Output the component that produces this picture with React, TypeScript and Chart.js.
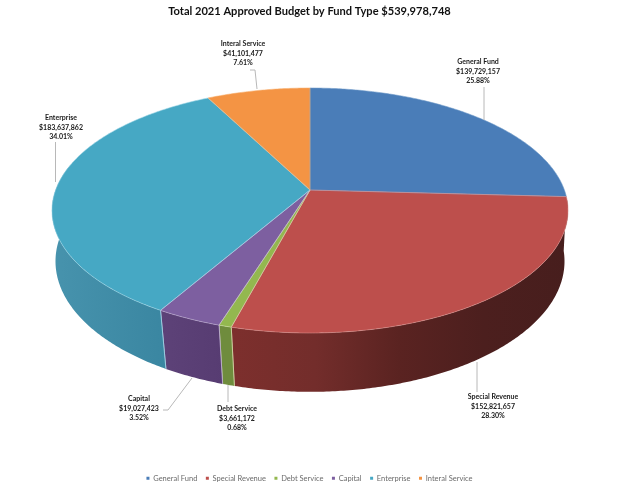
import React, { useEffect, useRef } from "react";
import { Chart, registerables } from "chart.js";

Chart.register(...registerables);

const categories = ["General Fund", "Special Revenue", "Debt Service", "Capital", "Enterprise", "Interal Service"];
const amounts = [139729157, 152821657, 3661172, 19027423, 183637862, 41101477];
const percents = ["25.88%", "28.30%", "0.68%", "3.52%", "34.01%", "7.61%"];
const topColors = ["#4a7db8", "#bd4f4c", "#93b84f", "#7d5fa0", "#46a8c4", "#f49444"];
const rimColors = ["#6f9aca", "#d98f8c", "#cfe0a8", "#c0b0d4", "#a0d8e8", "#f8b070"];
const wallShades = [
  ["#3a6491", "#3a6491"],
  ["#7d2f2d", "#732d2b", "#5a2321", "#4c1f1e", "#471e1d"],
  ["#6f8c3d", "#6f8c3d"],
  ["#5d4278", "#573c72"],
  ["#4793ad", "#3a86a1"],
  ["#b86f30", "#b86f30"],
];

const labelCenters = [[478, 62], [493, 397], [237, 409], [139, 399], [61, 118], [243, 44]];
const leaderLines = [
  [[484, 87], [484, 120]],
  [[477, 362], [477, 392]],
  [[228, 385], [228, 402]],
  [[192, 378], [168, 410], [163, 410]],
  [[55.5, 142], [55.5, 182]],
  [[250, 70], [255, 70], [257, 89]],
];

const top = { cx: 310, cy: 190, a: 119.07, b: 254.4, k: -0.1673 };
const bottom = { cx: 310, cy: 243, a: 128, b: 252, k: -0.14 };
const WALL_FROM = (3.5 * Math.PI) / 180;
const WALL_TO = (192 * Math.PI) / 180;
const FONT = "Lato, 'Liberation Sans', sans-serif";

type Plane = typeof top;
const project = (p: Plane, t: number): [number, number] => {
  const X = Math.cos(t);
  const Y = Math.sin(t);
  const w = 1 + p.k * Y;
  return [p.cx + (p.b * X) / w, p.cy + (p.a * Y) / w];
};

const arcPoints = (p: Plane, a0: number, a1: number) => {
  const n = Math.max(2, Math.ceil(Math.abs(a1 - a0) / 0.01));
  const pts: [number, number][] = [];
  for (let i = 0; i <= n; i++) pts.push(project(p, a0 + ((a1 - a0) * i) / n));
  return pts;
};

const trace = (ctx: CanvasRenderingContext2D, pts: [number, number][], close = true) => {
  ctx.beginPath();
  pts.forEach(([x, y], i) => (i ? ctx.lineTo(x, y) : ctx.moveTo(x, y)));
  if (close) ctx.closePath();
};

const pie3d = {
  id: "pie3d",
  beforeDatasetDraw(chart: any) {
    const ctx: CanvasRenderingContext2D = chart.ctx;
    const arcs = chart.getDatasetMeta(0).data;
    ctx.save();
    // side walls
    arcs.forEach((el: any, i: number) => {
      const a0 = Math.max(el.startAngle, WALL_FROM);
      const a1 = Math.min(el.endAngle, WALL_TO);
      if (a1 <= a0) return;
      const upper = arcPoints(top, a0, a1);
      const lower = arcPoints(bottom, a1, a0);
      const poly = [...upper, ...lower];
      const xs = poly.map((q) => q[0]);
      const g = ctx.createLinearGradient(Math.min(...xs), 0, Math.max(...xs), 0);
      wallShades[i].forEach((c, s) => g.addColorStop(s / (wallShades[i].length - 1), c));
      trace(ctx, poly);
      ctx.fillStyle = g;
      ctx.fill();
      ctx.strokeStyle = rimColors[i];
      ctx.lineWidth = 0.8;
      if (a0 > 0.5) {
        trace(ctx, [upper[0], lower[lower.length - 1]], false);
        ctx.stroke();
      }
      if (a1 < 3) {
        trace(ctx, [upper[upper.length - 1], lower[0]], false);
        ctx.stroke();
      }
    });
    // top faces
    const apex: [number, number] = [top.cx, top.cy];
    arcs.forEach((el: any, i: number) => {
      trace(ctx, [apex, ...arcPoints(top, el.startAngle, el.endAngle)]);
      ctx.fillStyle = topColors[i];
      ctx.fill();
    });
    arcs.forEach((el: any, i: number) => {
      trace(ctx, [apex, ...arcPoints(top, el.startAngle, el.endAngle)]);
      ctx.strokeStyle = rimColors[i];
      ctx.globalAlpha = 0.7;
      ctx.lineWidth = 0.8;
      ctx.stroke();
      ctx.globalAlpha = 1;
    });
    ctx.restore();
    return false;
  },
  afterDatasetsDraw(chart: any) {
    const ctx: CanvasRenderingContext2D = chart.ctx;
    ctx.save();
    ctx.strokeStyle = "#b8b8b8";
    ctx.lineWidth = 1;
    leaderLines.forEach((line) => {
      trace(ctx, line as [number, number][], false);
      ctx.stroke();
    });
    ctx.fillStyle = "#1a1a1a";
    ctx.textAlign = "center";
    ctx.textBaseline = "middle";
    ctx.font = `bold 7px ${FONT}`;
    categories.forEach((name, i) => {
      const [x, y] = labelCenters[i];
      ctx.fillText(name, x, y);
      ctx.fillText("$" + amounts[i].toLocaleString("en-US"), x, y + 9.5);
      ctx.fillText(percents[i], x, y + 19);
    });
    ctx.restore();
  },
};

export default function App() {
  const ref = useRef<HTMLCanvasElement>(null);
  useEffect(() => {
    const chart = new Chart(ref.current!, {
      type: "pie",
      data: {
        labels: categories,
        datasets: [{ data: amounts, backgroundColor: topColors, borderWidth: 0 }],
      },
      options: {
        responsive: false,
        animation: false,
        layout: { padding: { top: 0, bottom: -5 } },
        plugins: {
          title: {
            display: true,
            text: "Total 2021 Approved Budget by Fund Type $539,978,748",
            color: "#111111",
            font: { family: FONT, size: 11.1, weight: "bold" },
            padding: { top: 5, bottom: 6 },
          },
          legend: {
            position: "bottom",
            labels: {
              usePointStyle: true,
              pointStyle: "rect",
              boxWidth: 3,
              boxHeight: 3,
              padding: 8.5,
              color: "#6b6b6b",
              font: { family: FONT, size: 7.5 },
            },
          },
          tooltip: { enabled: false },
        },
      },
      plugins: [pie3d],
    } as any);
    return () => chart.destroy();
  }, []);
  return (
    <div style={{ position: "absolute", left: 0, top: 0, width: 619, height: 487, background: "#fff" }}>
      <canvas ref={ref} width={619} height={487} style={{ display: "block" }} />
    </div>
  );
}
